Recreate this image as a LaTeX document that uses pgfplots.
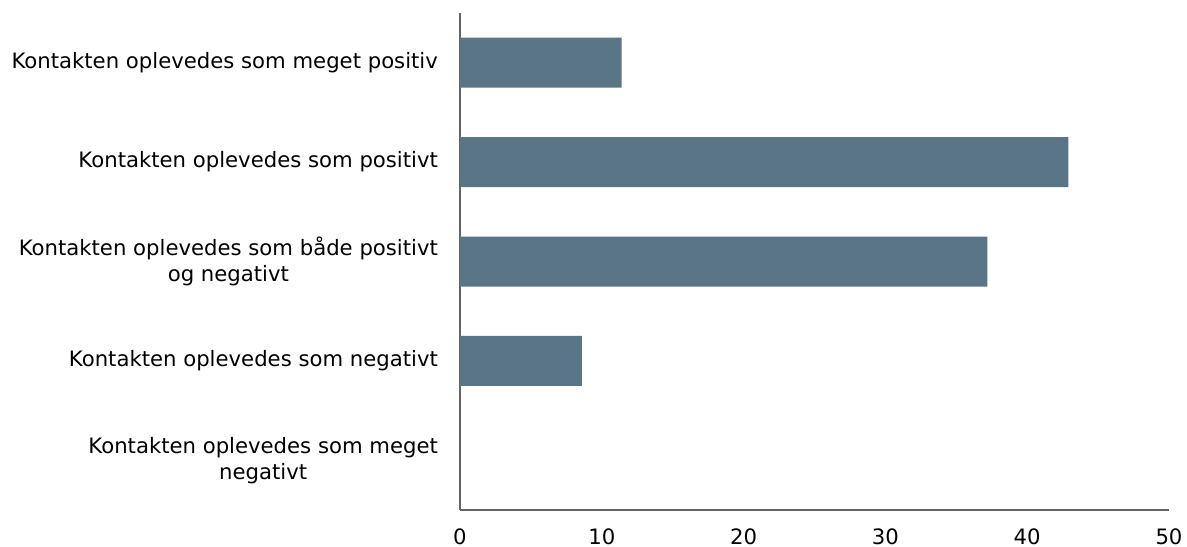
\documentclass[border=0pt]{standalone}
\usepackage{pgfplots}
\pgfplotsset{compat=1.18}
\usepackage{fontspec}
\setmainfont{DejaVu Sans}
\definecolor{barc}{RGB}{90,117,133}
\definecolor{axc}{RGB}{100,100,100}
\begin{document}
\begin{tikzpicture}
\begin{axis}[
  scale only axis,
  width=354.5pt, height=248.5pt,
  xbar, bar width=25pt,
  xmin=0, xmax=50,
  ymin=-0.5, ymax=4.5,
  y dir=reverse,
  axis x line=bottom, axis y line=left,
  axis line style={axc, line width=0.7pt, -},
  xtick={0,10,20,30,40,50},
  ytick={0,1,2,3,4},
  yticklabels={{Kontakten oplevedes som meget positiv},{Kontakten oplevedes som positivt},{Kontakten oplevedes som både positivt\\og negativt},{Kontakten oplevedes som negativt},{Kontakten oplevedes som meget\\negativt}},
  major tick length=0pt,
  yticklabel style={align=center, font=\fontsize{10.6}{13}\selectfont, xshift=-7.5pt},
  xticklabel style={font=\fontsize{10.6}{12.5}\selectfont, yshift=-6pt},
  /pgf/number format/assume math mode=true,
  clip=false,
]
\addplot[fill=barc, draw=none] coordinates {(11.4,0) (42.9,1) (37.2,2) (8.6,3) (0,4)};
\coordinate (bl) at (rel axis cs:-0.6488,-0.0744);
\coordinate (tr) at (rel axis cs:1.0254,1.0262);
\end{axis}
\pgfresetboundingbox
\path[use as bounding box] (bl) rectangle (tr);
\end{tikzpicture}
\end{document}
